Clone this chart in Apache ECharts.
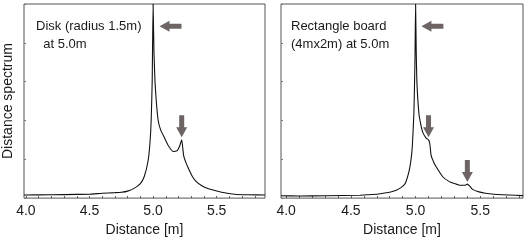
<!DOCTYPE html>
<html>
<head>
<meta charset="utf-8">
<script src="https://cdn.jsdelivr.net/npm/echarts@6/dist/echarts.min.js"></script>
<style>
  html, body { margin: 0; padding: 0; background: #fff; }
  #chart { width: 526px; height: 242px; }
</style>
</head>
<body>
<div id="chart"></div>
<script>
// distance [m] vs spectrum (arbitrary units, peak = 1)
var diskX = [3.985, 4.2, 4.4, 4.5, 4.6, 4.7, 4.75, 4.8, 4.85, 4.9, 4.93, 4.96, 4.975, 4.985, 4.993, 5.0,
  5.007, 5.015, 5.025, 5.04, 5.06, 5.09, 5.12, 5.16, 5.19, 5.21, 5.225, 5.24, 5.26, 5.28, 5.31, 5.34, 5.38, 5.43, 5.48, 5.54, 5.64, 5.75, 5.88];
var diskY = [0.016, 0.017, 0.019, 0.02, 0.025, 0.028, 0.03, 0.036, 0.05, 0.075, 0.11, 0.19, 0.28, 0.4, 0.6, 1.0,
  0.75, 0.6, 0.5, 0.4, 0.35, 0.31, 0.27, 0.24, 0.245, 0.27, 0.3, 0.22, 0.18, 0.15, 0.11, 0.085, 0.065, 0.05, 0.04, 0.03, 0.02, 0.017, 0.016];

var boardX = [3.96, 4.1, 4.3, 4.57, 4.7, 4.75, 4.8, 4.85, 4.89, 4.92, 4.95, 4.965, 4.975, 4.987, 4.995, 5.0,
  5.005, 5.01, 5.025, 5.04, 5.055, 5.08, 5.1, 5.11, 5.12, 5.14, 5.16, 5.21, 5.26, 5.3, 5.34, 5.38, 5.40, 5.42, 5.44, 5.49, 5.54, 5.67, 5.83];
var boardY = [0.012, 0.011, 0.012, 0.015, 0.02, 0.025, 0.03, 0.04, 0.055, 0.075, 0.14, 0.2, 0.27, 0.44, 0.7, 1.0,
  0.75, 0.6, 0.44, 0.38, 0.34, 0.31, 0.30, 0.28, 0.22, 0.185, 0.16, 0.11, 0.085, 0.075, 0.066, 0.066, 0.072, 0.06, 0.045, 0.032, 0.025, 0.017, 0.013];

var xLabels = [4.0, 4.5, 5.0, 5.5];
var xMinor = [4.0, 4.1, 4.2, 4.3, 4.4, 4.5, 4.6, 4.7, 4.8, 4.9, 5.0, 5.1, 5.2, 5.3, 5.4, 5.5, 5.6, 5.7, 5.8];

// arrow annotations: [x, y, direction]
var diskArrows = [[5.137, 0.886, 'left'], [5.225, 0.37, 'down']];
var boardArrows = [[5.13, 0.886, 'left'], [5.10, 0.37, 'down'], [5.40, 0.14, 'down']];

var font = 'Liberation Sans, Arial, sans-serif';
var arrowPath = 'path://M3,0 L8,0 L8,12 L11,12 L5.5,22 L0,12 L3,12 Z';

function pairs(xs, ys) {
  return xs.map(function (x, i) { return [x, ys[i]]; });
}

function arrowMarks(list) {
  return list.map(function (a) {
    return {
      coord: [a[0], a[1]],
      symbol: arrowPath,
      symbolSize: [11, 22],
      symbolRotate: a[2] === 'left' ? -90 : 0
    };
  });
}

function xAxis(idx, min, max) {
  return {
    type: 'value', gridIndex: idx, min: min, max: max,
    name: 'Distance [m]', nameLocation: 'middle', nameGap: 21,
    nameTextStyle: { fontFamily: font, fontSize: 14, color: '#1a1a1a' },
    axisLine: { show: false },
    splitLine: { show: false },
    axisTick: { show: true, inside: true, length: 2, customValues: xMinor, lineStyle: { color: '#555' } },
    axisLabel: { customValues: xLabels, fontFamily: font, fontSize: 14, color: '#1a1a1a', margin: 6,
      formatter: function (v) { return v.toFixed(1); } }
  };
}

function yAxis(idx, withName) {
  return {
    type: 'value', gridIndex: idx, min: 0, max: 1, interval: 0.2,
    name: withName ? 'Distance spectrum' : '', nameLocation: 'middle', nameGap: 9,
    nameTextStyle: { fontFamily: font, fontSize: 14, color: '#1a1a1a' },
    axisLine: { show: false },
    splitLine: { show: false },
    axisTick: { show: true, inside: true, length: 2, lineStyle: { color: '#777' } },
    axisLabel: { show: false }
  };
}

function lineSeries(idx, data, arrows) {
  return {
    type: 'line', xAxisIndex: idx, yAxisIndex: idx,
    data: data, showSymbol: false, symbol: 'none', smooth: 0.15,
    lineStyle: { color: '#111', width: 1.1 },
    markPoint: {
      silent: true,
      itemStyle: { color: '#6e6464' },
      label: { show: false },
      data: arrowMarks(arrows)
    },
    animation: false
  };
}

var chart = echarts.init(document.getElementById('chart'));
chart.setOption({
  animation: false,
  grid: [
    { left: 23, right: 261, top: 4, bottom: 37, show: true, borderColor: '#555', borderWidth: 1 },
    { left: 281, right: 3, top: 4, bottom: 37, show: true, borderColor: '#555', borderWidth: 1 }
  ],
  xAxis: [xAxis(0, 3.985, 5.88), xAxis(1, 3.96, 5.83)],
  yAxis: [yAxis(0, true), yAxis(1, false)],
  series: [
    lineSeries(0, pairs(diskX, diskY), diskArrows),
    lineSeries(1, pairs(boardX, boardY), boardArrows)
  ],
  graphic: [
    { type: 'text', left: 36, top: 17, style: { text: 'Disk (radius 1.5m)\n  at 5.0m', font: '13px ' + font, fill: '#1a1a1a', lineHeight: 18 } },
    { type: 'text', left: 291, top: 17, style: { text: 'Rectangle board\n(4mx2m) at 5.0m', font: '13px ' + font, fill: '#1a1a1a', lineHeight: 18 } }
  ]
});
</script>
</body>
</html>
